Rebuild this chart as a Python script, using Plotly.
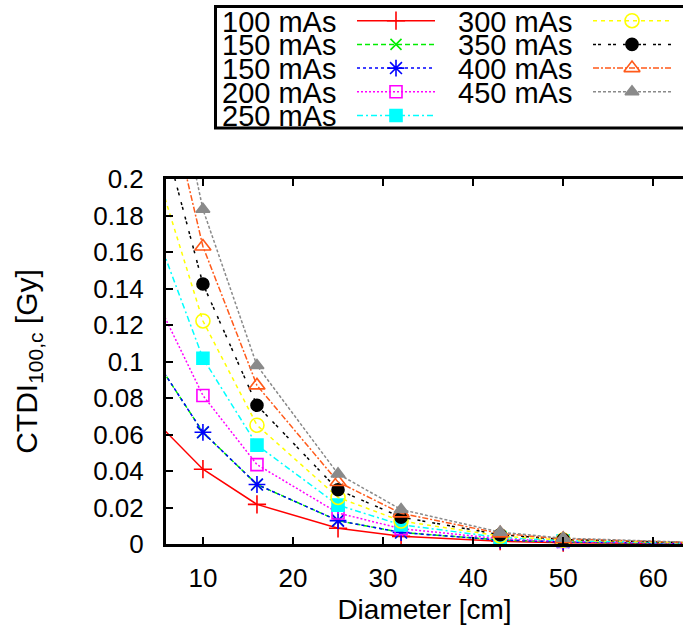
import plotly.graph_objects as go

# ---------------- data ----------------
diameter = [5, 10, 16, 25, 32, 43, 50, 65]  # cm

series_names = ["100 mAs", "150 mAs", "150 mAs", "200 mAs", "250 mAs",
                "300 mAs", "350 mAs", "400 mAs", "450 mAs"]

ctdi_100 = [0.066, 0.0410, 0.0217, 0.0086, 0.0042, 0.0015, 0.0007, 0.0002]
ctdi_150a = [0.099, 0.0612, 0.0326, 0.0128, 0.0063, 0.0022, 0.0011, 0.0003]
ctdi_150b = [0.099, 0.0612, 0.0326, 0.0128, 0.0063, 0.0022, 0.0011, 0.0003]
ctdi_200 = [0.132, 0.0814, 0.0435, 0.0170, 0.0084, 0.0029, 0.0014, 0.0003]
ctdi_250 = [0.168, 0.1018, 0.0542, 0.0213, 0.0105, 0.0036, 0.0018, 0.0004]
ctdi_300 = [0.202, 0.1222, 0.0651, 0.0255, 0.0126, 0.0044, 0.0021, 0.0005]
ctdi_350 = [0.235, 0.1425, 0.0760, 0.0297, 0.0147, 0.0051, 0.0025, 0.0006]
ctdi_400 = [0.268, 0.1630, 0.0869, 0.0340, 0.0168, 0.0058, 0.0028, 0.0007]
ctdi_450 = [0.300, 0.1834, 0.0978, 0.0384, 0.0189, 0.0065, 0.0032, 0.0008]

series_values = [ctdi_100, ctdi_150a, ctdi_150b, ctdi_200, ctdi_250,
                 ctdi_300, ctdi_350, ctdi_400, ctdi_450]

x_ticks = [10, 20, 30, 40, 50, 60]
y_ticks = [0, 0.02, 0.04, 0.06, 0.08, 0.1, 0.12, 0.14, 0.16, 0.18, 0.2]
y_tick_labels = ["0", "0.02", "0.04", "0.06", "0.08", "0.1", "0.12",
                 "0.14", "0.16", "0.18", "0.2"]

# ---------------- styles ----------------
colors = ["#ff0000", "#00ee00", "#0000ff", "#ff00ff", "#00ffff",
          "#ffff00", "#000000", "#ff5a1a", "#8a8a8a"]
dashes = ["solid", "5px,3px", "3px,3px", "2px,2px", "6px,3px,2px,3px",
          "4px,4px", "3px,2px,3px,7px", "6px,2px,2px,2px", "3px,2px"]
symbols = ["cross-thin-open", "x-thin-open", "asterisk-open", "square-open",
           "square", "circle-open", "circle", "triangle-up-open", "triangle-up"]
msizes = [13, 11, 14, 12, 12, 14, 12, 14, 12]

FONT = "Liberation Sans, Arial, Helvetica, sans-serif"
XMIN, XMAX = 5.9, 63.3

# page geometry helpers
W, H = 683, 637
ML, MB, MT = 166, 93, 0
plot_top_px = 179
paper_h = H - MB - MT  # 544
paper_w = W - ML       # 517

fig = go.Figure()

for name, vals, c, d, s, ms in zip(series_names, series_values, colors,
                                  dashes, symbols, msizes):
    sizes = [ms if XMIN <= x <= XMAX else 0 for x in diameter]
    fig.add_trace(go.Scatter(
        x=diameter, y=vals, name=name, mode="lines+markers",
        line=dict(color=c, width=1.5, dash=d),
        marker=dict(symbol=s, size=sizes, color=c, opacity=1,
                    line=dict(color=c, width=1.6)),
        cliponaxis=False, showlegend=False,
        xaxis="x", yaxis="y",
    ))

# ---------------- custom legend (text left of sample, 2 columns) ----------------
row_y0, row_dy = 20.7, 23.7
col_text_x = [338, 574]
col_sample_x = [[357, 396, 435], [593, 632, 672]]
annotations = []
for k, (name, c, d, s, ms) in enumerate(zip(series_names, colors, dashes,
                                            symbols, msizes)):
    col = 0 if k < 5 else 1
    row = k if k < 5 else k - 5
    yy = row_y0 + row_dy * row
    fig.add_trace(go.Scatter(
        x=col_sample_x[col], y=[yy, yy, yy], mode="lines+markers",
        line=dict(color=c, width=1.5, dash=d),
        marker=dict(symbol=s, size=[0, ms, 0], color=c, opacity=1,
                    line=dict(color=c, width=1.6)),
        showlegend=False, hoverinfo="skip", xaxis="x2", yaxis="y2",
    ))
    annotations.append(dict(
        x=col_text_x[col], y=yy + 1, xref="x2", yref="y2", text=name,
        showarrow=False, xanchor="right", yanchor="middle",
        font=dict(family=FONT, size=29, color="black"),
    ))

fig.update_layout(
    width=W, height=H,
    margin=dict(l=ML, r=0, t=MT, b=MB, pad=0, autoexpand=False),
    paper_bgcolor="white", plot_bgcolor="white",
    showlegend=False,
    font=dict(family=FONT, color="black"),
    xaxis=dict(
        domain=[0, 1], range=[XMIN, XMAX], tickvals=x_ticks,
        ticks="inside", ticklen=7, tickwidth=2, tickcolor="black",
        showline=True, linewidth=3, linecolor="black", mirror="ticks",
        showgrid=False, zeroline=False, automargin=False,
        tickfont=dict(family=FONT, size=26, color="black"),
        ticklabelstandoff=9,
        title=dict(text="Diameter [cm]", standoff=8,
                   font=dict(family=FONT, size=28, color="black")),
        anchor="y",
    ),
    yaxis=dict(
        domain=[0, (paper_h - plot_top_px) / paper_h], range=[0, 0.2],
        tickvals=y_ticks, ticktext=y_tick_labels,
        ticks="inside", ticklen=7, tickwidth=2, tickcolor="black",
        showline=True, linewidth=3, linecolor="black", mirror=False,
        showgrid=False, zeroline=False, automargin=False,
        tickfont=dict(family=FONT, size=26, color="black"),
        ticklabelstandoff=14,
        title=dict(text="CTDI<sub>100,c</sub> [Gy]", standoff=47,
                   font=dict(family=FONT, size=30, color="black")),
        anchor="x",
    ),
    xaxis2=dict(domain=[(214 - ML) / paper_w, 1], range=[214, 683],
                visible=False, anchor="y2", fixedrange=True, automargin=False),
    yaxis2=dict(domain=[(paper_h - 129) / paper_h, (paper_h - 6) / paper_h],
                range=[129, 6], visible=False, anchor="x2", fixedrange=True,
                automargin=False),
    annotations=annotations,
    shapes=[dict(type="rect", xref="paper", yref="paper",
                 x0=(215.5 - ML) / paper_w, x1=1.05,
                 y0=(paper_h - 128) / paper_h, y1=(paper_h - 6.5) / paper_h,
                 line=dict(color="black", width=3), fillcolor="rgba(0,0,0,0)")],
)

fig.write_html("out.html")
